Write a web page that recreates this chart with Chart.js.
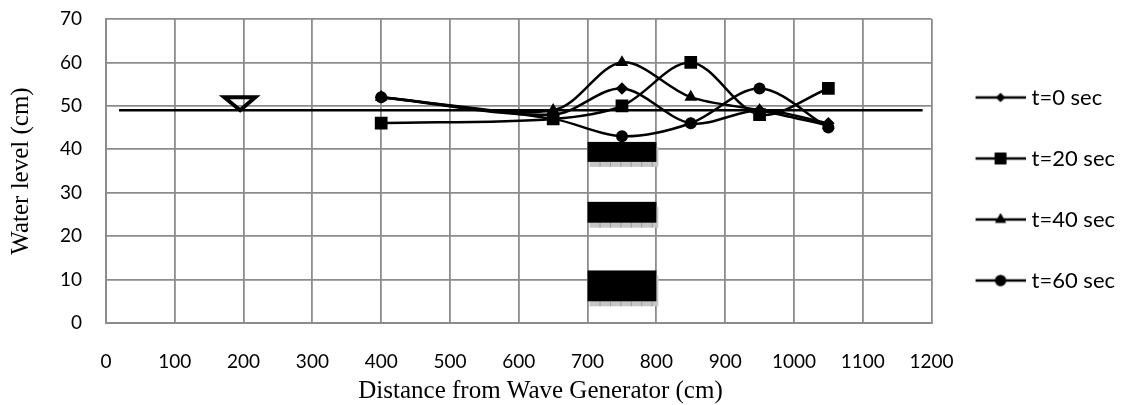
<!DOCTYPE html>
<html>
<head>
<meta charset="utf-8">
<script src="https://cdn.jsdelivr.net/npm/chart.js@4"></script>
<style>
  html, body { margin: 0; padding: 0; background: #fff; }
  #wrap { width: 1122px; height: 405px; }
</style>
</head>
<body>
<div id="wrap"><canvas id="waves"></canvas></div>
<script>
// values
const distances = [400, 650, 750, 850, 950, 1050];
const t0 = [52, 48, 54, 46, 49, 46];
const t20 = [46, 47, 50, 60, 48, 54];
const t40 = [52, 49, 60, 52, 49, 45.5];
const t60 = [52, 47, 43, 46, 54, 45];
const seriesNames = ['t=0 sec', 't=20 sec', 't=40 sec', 't=60 sec'];
const seriesMarkers = ['rectRot', 'rect', 'triangle', 'circle'];
const markerSizes = [6.3, 9, 7.3, 6];
const legendMarkerSizes = [4.6, 8.2, 6.3, 5.5];

// still water line and the little triangle sitting on it
const waterX = [19, 1187];
const waterY = [49, 49];
const triangleX = [195, 217, 195, 172, 195];
const triangleY = [52, 52, 49, 52, 52];

// breakwater blocks
const blockFrom = [700, 700, 700];
const blockTo = [800, 800, 800];
const blockTop = [41.7, 27.9, 12.1];
const blockBottom = [37.1, 23.1, 5];

const xTicksMax = 1200;
const yTicksMax = 70;
const xTitle = 'Distance from Wave Generator (cm)';

function pairs(xs, ys) {
  return xs.map((x, i) => ({ x: x, y: ys[i] }));
}

// legend key: line with the marker on it, shifted so the text keeps its gap
function legendKey(marker, r) {
  const c = document.createElement('canvas');
  c.width = 60;
  c.height = 16;
  const g = c.getContext('2d');
  g.strokeStyle = '#000';
  g.lineWidth = 2.3;
  g.beginPath();
  g.moveTo(10, 8);
  g.lineTo(60, 8);
  g.stroke();
  g.fillStyle = '#000';
  Chart.helpers.drawPoint(g, { pointStyle: marker, radius: r, rotation: 0, borderWidth: 0 }, 35, 8);
  g.fill();
  return c;
}

const blocks = {
  id: 'blocks',
  beforeDatasetsDraw(chart) {
    const g = chart.ctx;
    const x = chart.scales.x;
    const y = chart.scales.y;
    blockFrom.forEach((from, i) => {
      const l = x.getPixelForValue(from);
      const r = x.getPixelForValue(blockTo[i]);
      const t = y.getPixelForValue(blockTop[i]);
      const b = y.getPixelForValue(blockBottom[i]);
      // hatched shadow first
      g.fillStyle = '#c6c6c6';
      g.fillRect(l + 2, t + 5, r - l, b - t);
      g.fillStyle = '#9c9c9c';
      for (let k = l + 12; k < r; k += 10.4) {
        g.fillRect(k, b, 1, 5);
      }
      g.fillStyle = '#000';
      g.fillRect(l, t, r - l, b - t);
    });
  }
};

// the x title sits right of the plot centre in the reference, so it is placed by hand
const shiftedTitle = {
  id: 'shiftedTitle',
  afterDraw(chart) {
    const g = chart.ctx;
    g.save();
    g.font = '25px "Liberation Serif"';
    g.fillStyle = '#000';
    g.textAlign = 'center';
    g.textBaseline = 'middle';
    g.fillText(xTitle, 540.5, 391);
    g.restore();
  }
};

const curves = seriesNames.map((name, i) => ({
  label: name,
  data: pairs(distances, [t0, t20, t40, t60][i]),
  borderColor: '#000',
  backgroundColor: '#000',
  borderWidth: 2.5,
  tension: 0.33,
  pointStyle: seriesMarkers[i],
  pointRadius: markerSizes[i],
  pointBorderWidth: 0,
  showLine: true
}));

new Chart(document.getElementById('waves'), {
  type: 'scatter',
  data: {
    datasets: curves.concat([
      {
        label: 'water',
        data: pairs(waterX, waterY),
        showLine: true,
        borderColor: '#000',
        borderWidth: 2.5,
        pointRadius: 0
      },
      {
        label: 'marker',
        data: pairs(triangleX, triangleY),
        showLine: true,
        borderColor: '#000',
        borderWidth: 4,
        borderJoinStyle: 'miter',
        pointRadius: 0
      }
    ])
  },
  plugins: [blocks, shiftedTitle],
  options: {
    responsive: true,
    maintainAspectRatio: false,
    animation: false,
    layout: { padding: { top: 8, right: -3, bottom: 35, left: 6 } },
    scales: {
      x: {
        type: 'linear',
        min: 0,
        max: xTicksMax,
        border: { color: '#8c8c8c', width: 2 },
        grid: { color: '#8c8c8c', lineWidth: 1.8, drawTicks: false },
        ticks: {
          stepSize: 100, color: '#000', padding: 27, maxRotation: 0,
          format: { useGrouping: false },
          font: { family: 'Lato', size: 19 }
        },
        afterFit(scale) { scale.height = 47; }
      },
      y: {
        min: 0,
        max: yTicksMax,
        border: { color: '#8c8c8c', width: 2 },
        grid: { color: '#8c8c8c', lineWidth: 1.8, drawTicks: false },
        ticks: { stepSize: 10, color: '#000', padding: 24, font: { family: 'Lato', size: 19 } },
        title: {
          display: true,
          text: 'Water level (cm)',
          color: '#000',
          padding: { top: 0, bottom: 0 },
          font: { family: 'Liberation Serif', size: 25 }
        },
        afterFit(scale) {
          scale.width = 100;
          scale.paddingTop = 19;
        }
      }
    },
    plugins: {
      tooltip: { enabled: false },
      legend: {
        position: 'right',
        labels: {
          usePointStyle: true,
          pointStyleWidth: 50,
          padding: 39,
          color: '#000',
          font: { family: 'Lato', size: 22 },
          filter: (item) => item.datasetIndex < 4,
          generateLabels(chart) {
            return chart.data.datasets.map((d, i) => ({
              text: d.label,
              datasetIndex: i,
              fontColor: '#000',
              lineWidth: 0,
              pointStyle: legendKey(seriesMarkers[i] || 'circle', legendMarkerSizes[i] || 1)
            }));
          }
        }
      }
    }
  }
});
</script>
</body>
</html>
